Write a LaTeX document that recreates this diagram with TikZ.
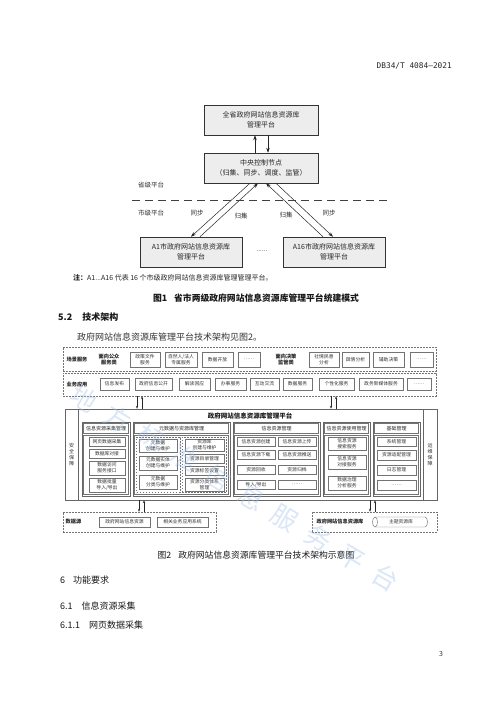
\documentclass[tikz,border=0pt]{standalone}
\usepackage{fontspec}
\setmainfont{Noto Sans CJK SC}
\newfontfamily\hdrfont{DejaVu Sans Mono}
\usetikzlibrary{arrows.meta}
\newcommand{\myfs}[2]{\fontsize{#1}{#2}\selectfont}
\newcommand{\mybox}[7][]{%
  \pgfmathsetmacro\bxcx{(#3+#5)/2}%
  \pgfmathsetmacro\bxcy{(#4+#6)/2}%
  \pgfmathsetmacro\bxw{#5-#3}%
  \pgfmathsetmacro\bxh{#6-#4}%
  \node[#1, minimum width=\bxw pt, minimum height=\bxh pt] (#2) at (\bxcx,\bxcy) {#7};}
\definecolor{wm}{RGB}{165,195,235}
\tikzset{
  fonebox/.style={draw=black!80, fill=black!7, line width=0.5pt, inner sep=0pt, align=center, font=\myfs{7}{9.5}, text=black!85},
  lbl/.style={inner sep=0pt, font=\myfs{6.5}{8}, text=black!80},
  arr/.style={-{Stealth[length=5pt,width=3.4pt]}, line width=0.5pt, draw=black!85},
  arrsm/.style={-{Stealth[length=3pt,width=2.2pt]}, line width=0.45pt, draw=black!85},
  rowbox/.style={draw=black!55, dash pattern=on 1.8pt off 1.2pt, line width=0.45pt, inner sep=0pt},
  ibox/.style={draw=black!55, line width=0.45pt, fill=white, inner sep=0pt, align=center, font=\myfs{4.8}{5.9}, text=black!80},
  mbox/.style={draw=black!60, line width=0.5pt, inner sep=0pt, align=center},
  tbox/.style={draw=black!55, line width=0.45pt, inner sep=0pt, align=center, font=\myfs{5}{6}, text=black!85},
  bl/.style={inner sep=0pt, align=center, font=\bfseries\myfs{5.2}{6.4}, text=black!85},
  head/.style={inner sep=0pt, anchor=west, font=\myfs{9}{10}, text=black!90},
}
\begin{document}
\begin{tikzpicture}[x=1pt,y=-1pt]
\fill[white] (0,0) rectangle (500,707);
\useasboundingbox (0,0) rectangle (500,707);

% header
\node[anchor=east, inner sep=0pt, font=\hdrfont\myfs{7.8}{9}, text=black!85] (hdr) at (452,66) {DB34/T 4084—2021};

% ---------------- Figure 1 ----------------
\mybox[fonebox]{top}{204}{105}{318}{135}{全省政府网站信息资源库\\管理平台}
\mybox[fonebox]{ctr}{204}{153}{318}{183}{中央控制节点\\（归集、同步、调度、监管）}
\mybox[fonebox]{aone}{140}{237}{242}{267}{A1市政府网站信息资源库\\管理平台}
\mybox[fonebox]{asix}{283}{237}{385}{267}{A16市政府网站信息资源库\\管理平台}

\draw[arr] ([xshift=-6pt]ctr.north) -- ([xshift=-6pt]top.south);
\draw[arr] ([xshift=7pt]top.south) -- ([xshift=7pt]ctr.north);

\draw[arr] ([xshift=-11pt]ctr.south) -- ([xshift=0pt]aone.north);
\draw[arr] ([xshift=9pt]aone.north) -- ([xshift=-3pt]ctr.south);
\draw[arr] ([xshift=15pt]ctr.south) -- ([xshift=-1pt]asix.north);
\draw[arr] ([xshift=-11pt]asix.north) -- ([xshift=5pt]ctr.south);

\coordinate (dl) at (132,200.5);
\coordinate (dr) at (388,200.5);
\draw[dash pattern=on 8pt off 5pt, line width=0.6pt, draw=black!75] (dl) -- (dr);

\node[lbl] (sj) at (151,185) {省级平台};
\node[lbl] (shj) at (151,213) {市级平台};
\node[lbl] (tb1) at (197,213) {同步};
\node[lbl] (gj1) at (241,216) {归集};
\node[lbl] (gj2) at (286,215) {归集};
\node[lbl] (tb2) at (329,213) {同步};
\node[lbl] (dots) at (262,251) {......};

\node[inner sep=0pt, anchor=west, font=\myfs{7}{8}, text=black!85] (note) at (73,278) {{\bfseries 注：}A1...A16 代表 16 个市级政府网站信息资源库管理管理平台。};

\node[inner sep=0pt, font=\bfseries\myfs{8.8}{10}, text=black!90] (capone) at (256,298) {图1\hspace{7pt}省市两级政府网站信息资源库管理平台统建模式};

\node[head, font=\bfseries\myfs{9}{10}] (secfivetwo) at (58,317) {5.2\hspace{10pt}技术架构};
\node[head, text=black!80] (body) at (77,337) {政府网站信息资源库管理平台技术架构见图2。};

% ---------------- Figure 2 ----------------
\mybox[rowbox]{rone}{63}{347}{436}{371}{}
\mybox[rowbox]{rtwo}{63}{373}{436}{396}{}

\node[bl] (lone) at (77,360) {场景服务};
\node[bl] (gone) at (109,359.5) {面向公众\\服务类};
\node[bl] (gtwo) at (286,359.5) {面向决策\\监管类};
\node[bl] (ltwo) at (77,385) {业务应用};

\mybox[ibox]{pa}{130}{352}{160}{367}{政策文件\\服务}
\mybox[ibox]{pb}{165}{352}{197}{367}{自然人/法人\\专属服务}
\mybox[ibox]{pc}{202}{352}{233}{367}{数据开放}
\mybox[ibox]{pd}{238}{352}{260}{367}{……}
\mybox[ibox]{da}{309}{352}{339}{367}{社情民意\\分析}
\mybox[ibox]{db}{342}{352}{369}{367}{舆情分析}
\mybox[ibox]{dc}{373}{352}{404}{367}{辅助决策}
\mybox[ibox]{dd}{410}{352}{433}{367}{……}

\mybox[ibox]{ba}{100}{378}{129}{390}{信息发布}
\mybox[ibox]{bb}{135}{378}{172}{390}{政府信息公开}
\mybox[ibox]{bc}{179}{378}{210}{390}{解读回应}
\mybox[ibox]{bd}{215}{378}{246}{390}{办事服务}
\mybox[ibox]{be}{250}{378}{279}{390}{互动交流}
\mybox[ibox]{bf}{283}{378}{312}{390}{数据服务}
\mybox[ibox]{bg}{319}{378}{354}{390}{个性化服务}
\mybox[ibox]{bh}{359}{378}{403}{390}{政务新媒体服务}
\mybox[ibox]{bi}{407}{378}{431}{390}{……}

% platform
\mybox[mbox]{plat}{65}{409}{437}{500}{}
\mybox[mbox, font=\myfs{5}{6}, text=black!80]{secu}{65}{409}{78}{500}{安\\全\\保\\障}
\mybox[mbox, font=\myfs{5}{6}, text=black!80]{opsu}{423}{409}{437}{500}{运\\维\\保\\障}
\node[inner sep=0pt, font=\bfseries\myfs{6.5}{7}, text=black!90] (ptitle) at (250,416) {政府网站信息资源库管理平台};

% arrows between layers
\coordinate (xa) at (137,0);
\coordinate (xb) at (142,0);
\coordinate (xc) at (331,0);
\coordinate (xd) at (336,0);
\draw[arrsm] (rtwo.south -| xa) -- (plat.north -| xa);
\draw[arrsm] (plat.north -| xb) -- (rtwo.south -| xb);
\draw[arrsm] (rtwo.south -| xc) -- (plat.north -| xc);
\draw[arrsm] (plat.north -| xd) -- (rtwo.south -| xd);

% module 1
\mybox[mbox]{mone}{82}{422}{130}{496}{}
\mybox[tbox]{monet}{83.5}{423.5}{128.5}{433.5}{信息资源采集管理}
\mybox[tbox]{moneb}{83.5}{435}{128.5}{494.5}{}
\mybox[ibox]{ia}{89}{437}{125}{446}{网页数据采集}
\mybox[ibox]{ib}{89}{449}{125}{458}{数据库对接}
\mybox[ibox]{ic}{89}{461}{125}{475}{数据访问\\服务接口}
\mybox[ibox]{id}{89}{478}{125}{492}{数据批量\\导入/导出}

% module 2
\mybox[mbox]{mtwo}{133}{422}{230}{496}{}
\mybox[tbox]{mtwot}{134.5}{423.5}{228.5}{433.5}{元数据与资源库管理}
\mybox[tbox]{mtwob}{134.5}{435}{228.5}{494.5}{}
\mybox[rowbox]{mtl}{136.5}{437}{180}{492.5}{}
\mybox[rowbox]{mtr}{182}{437}{226.5}{492.5}{}
\mybox[ibox]{ma}{139}{439}{177}{452}{元数据\\创建与维护}
\mybox[ibox]{mb}{139}{456}{177}{470}{元数据实体\\创建与维护}
\mybox[ibox]{mc}{139}{475}{177}{489}{元数据\\分类与维护}
\mybox[ibox]{md}{185}{439}{224}{451}{资源库\\创建与维护}
\mybox[ibox]{me}{185}{454}{224}{463}{资源目录管理}
\mybox[ibox]{mf}{185}{466}{224}{475}{资源标签设置}
\mybox[ibox]{mg}{185}{478}{224}{491}{资源分类体系\\管理}

% module 3
\mybox[mbox]{mthree}{233}{422}{320}{496}{}
\mybox[tbox]{mthreet}{234.5}{423.5}{318.5}{433.5}{信息资源管理}
\mybox[tbox]{mthreeb}{234.5}{435}{318.5}{494.5}{}
\mybox[ibox]{ra}{237}{437}{275}{446}{信息资源创建}
\mybox[ibox]{rb}{237}{450}{275}{459}{信息资源下载}
\mybox[ibox]{rc}{237}{465}{275}{474}{资源回收}
\mybox[ibox]{rd}{237}{480}{275}{489}{导入/导出}
\mybox[ibox]{re}{278}{437}{316}{446}{信息资源上传}
\mybox[ibox]{rf}{278}{450}{316}{459}{信息资源推送}
\mybox[ibox]{rg}{278}{465}{316}{474}{资源归档}
\mybox[ibox]{rh}{278}{480}{316}{489}{……}

% module 4
\mybox[mbox]{mfour}{323}{422}{370}{496}{}
\mybox[tbox]{mfourt}{324.5}{423.5}{368.5}{433.5}{信息资源使用管理}
\mybox[tbox]{mfourb}{324.5}{435}{368.5}{494.5}{}
\mybox[ibox]{ua}{328}{437}{366}{450}{信息资源\\搜索服务}
\mybox[ibox]{ub}{328}{455}{366}{469}{信息资源\\对接服务}
\mybox[ibox]{uc}{328}{476}{366}{490}{数据治理\\分析服务}

% module 5
\mybox[mbox]{mfive}{373}{422}{420}{496}{}
\mybox[tbox]{mfivet}{374.5}{423.5}{418.5}{433.5}{基础管理}
\mybox[tbox]{mfiveb}{374.5}{435}{418.5}{494.5}{}
\mybox[ibox]{fa}{377}{437}{416}{446}{系统管理}
\mybox[ibox]{fb}{377}{450}{416}{460}{资源适配管理}
\mybox[ibox]{fc}{377}{465}{416}{475}{日志管理}
\mybox[ibox]{fd}{377}{480}{416}{490}{……}

% bottom layer
\mybox[rowbox]{src}{63}{512}{216}{532}{}
\mybox[rowbox]{lib}{312}{512}{437}{532}{}
\node[bl] (srcl) at (73.5,522) {数据源};
\mybox[ibox]{sa}{99}{517}{150}{527}{政府网站信息资源}
\mybox[ibox]{sb}{157}{517}{208}{527}{相关业务应用系统}
\node[bl] (libl) at (340,522) {政府网站信息资源库};
\node[inner sep=0pt, font=\myfs{4.8}{5.9}, text=black!80] (zt) at (401,522) {主题资源库};
\draw[draw=black!55, line width=0.45pt] (375,517) -- (425,517) arc[start angle=90, end angle=-90, x radius=2.5pt, y radius=5pt] -- (375,527) arc[start angle=270, end angle=90, x radius=2.5pt, y radius=5pt];
\draw[draw=black!55, line width=0.45pt] (375,517) arc[start angle=90, end angle=-90, x radius=2.5pt, y radius=5pt];

\coordinate (xe) at (139,0);
\coordinate (xf) at (144,0);
\coordinate (xg) at (370,0);
\coordinate (xh) at (375,0);
\draw[arrsm] (plat.south -| xe) -- (src.north -| xe);
\draw[arrsm] (src.north -| xf) -- (plat.south -| xf);
\draw[arrsm] (plat.south -| xg) -- (lib.north -| xg);
\draw[arrsm] (lib.north -| xh) -- (plat.south -| xh);

\node[inner sep=0pt, font=\myfs{8.8}{10}, text=black!90] (captwo) at (256,555) {图2\hspace{7pt}政府网站信息资源库管理平台技术架构示意图};

% headings
\node[head] (secsix) at (60,580) {6\hspace{8pt}功能要求};
\node[head] (secsixone) at (60,606) {6.1\hspace{9pt}信息资源采集};
\node[head] (secsixoneone) at (60,625) {6.1.1\hspace{9pt}网页数据采集};
\node[inner sep=0pt, font=\myfs{7}{8}, text=black!80] (pg) at (441,654) {3};

% watermark
\node[inner sep=0pt, rotate=-30.8, text=wm, opacity=0.4, font=\myfs{26}{28}\addfontfeature{LetterSpace=50}] (wmk) at (235,488) {地方标准信息服务平台};
\end{tikzpicture}
\end{document}
